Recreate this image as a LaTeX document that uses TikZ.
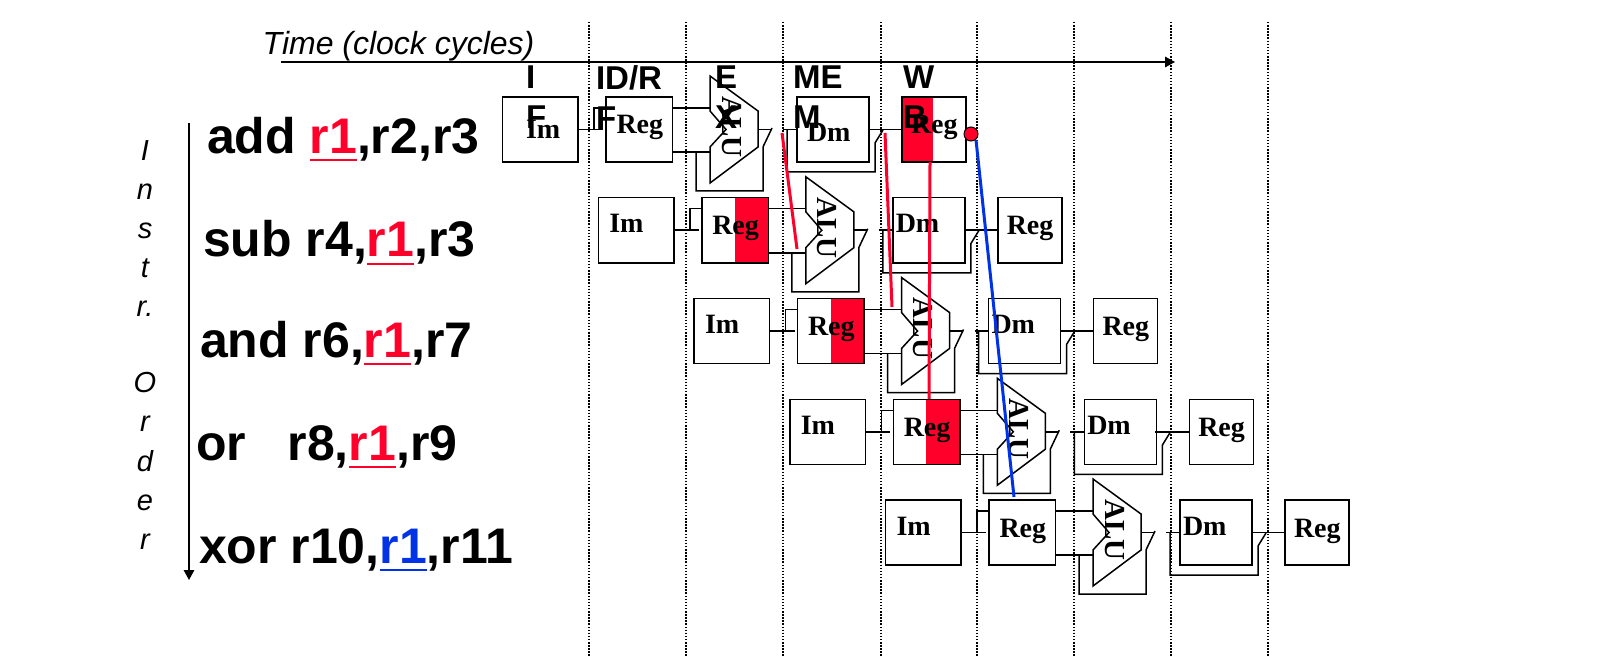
\documentclass[tikz,border=0pt]{standalone}
\usepackage{fontspec}
\setmainfont{Liberation Serif}
\newfontfamily\arialf{Liberation Sans}
\usetikzlibrary{arrows.meta}
\definecolor{hotred}{RGB}{255,0,43}
\definecolor{rblue}{RGB}{0,51,230}
\newcommand\regword[2]{\textcolor{#1}{\setbox0\hbox{#2}\rlap{\rule[-7.5pt]{\wd0}{2pt}}\box0}}
\tikzset{
  wire/.style={draw=black,line width=1.5pt},
  box/.style={draw=black,line width=1.5pt,rectangle,inner sep=0pt,outer sep=0pt,anchor=north west,minimum height=65pt},
  unit/.style={inner sep=0pt,outer sep=0pt,anchor=base west,font=\fontsize{28}{28}\selectfont\bfseries},
  alutext/.style={inner sep=0pt,outer sep=0pt,rotate=-90,font=\fontsize{29}{29}\selectfont\bfseries},
  stagehead/.style={inner sep=0pt,outer sep=0pt,anchor=north west,align=left,font=\arialf\fontsize{33}{40}\selectfont\bfseries},
  instr/.style={inner sep=0pt,outer sep=0pt,anchor=base west,font=\arialf\fontsize{50}{50}\selectfont\bfseries},
  grid line/.style={line width=1.3pt,dash pattern=on 1.5pt off 1.6pt},
  hazard/.style={line width=3pt,hotred},
  hazardblue/.style={line width=3pt,rblue},
  axis/.style={line width=1.5pt,-{Triangle[length=10pt,width=10.5pt]}}
}
\begin{document}
\begin{tikzpicture}[x=1pt,y=-1pt]
\useasboundingbox (0,0) rectangle (1602,668);
% clock-cycle grid
\foreach \gx in {589,686,783,881,977,1074,1171,1268}
  \draw[grid line] (\gx,22) -- (\gx,656);
% time axis
\node[inner sep=0pt,anchor=base west,font=\arialf\fontsize{32}{32}\selectfont\itshape] (timelabel) at (262.5,54.5) {Time (clock cycles)};
\coordinate (timeA) at (281,62);
\coordinate (timeB) at (1175,62);
\draw[axis] (timeA) -- (timeB);
% instruction-order axis
\coordinate (orderA) at (189,123);
\coordinate (orderB) at (189,580);
\draw[axis] (orderA) -- (orderB);
\node[inner sep=0pt,anchor=north,align=center,font=\arialf\fontsize{29}{39.2}\selectfont\itshape] (orderlabel) at (145,140) {I\\n\\s\\t\\r.\\[36.5pt]O\\r\\d\\e\\r};
% instructions
\node[instr] (i1) at (207,154) {add \regword{hotred}{r1},r2,r3};
\node[instr] (i2) at (203,257) {sub r4,\regword{hotred}{r1},r3};
\node[instr] (i3) at (200,357) {and r6,\regword{hotred}{r1},r7};
\node[instr] (i4) at (196,460) {or\ \ \ r8,\regword{hotred}{r1},r9};
\node[instr] (i5) at (199,563) {xor r10,\regword{rblue}{r1},r11};
% pipeline rows
\foreach \i/\imx/\imy/\dmx/\dmy in {0/526/139/807/142,1/513.5/132/800/132,2/513.5/132/800/132,3/513.5/132/800/132,4/513.5/132/800/132}{
\begin{scope}[shift={(95.75*\i,100.75*\i)}]
  % forwarded-register shading
  \ifnum\i=0 \fill[hotred] (902,97) rectangle (933,162); \fi
  \ifnum\i>0 \ifnum\i<4 \fill[hotred] (639,97) rectangle (672,162); \fi\fi
  \node[box,minimum width=75.5pt] (im\i) at (502.5,97) {};
  \node[box,minimum width=66.5pt] (reg\i) at (606,97) {};
  \node[box,minimum width=72pt] (dm\i) at (797,97) {};
  \node[box,minimum width=64pt] (wb\i) at (902,97) {};
  \coordinate (ifjoin\i) at (594,129.5);
  \coordinate (ifend\i) at (603,129.5);
  \coordinate (regtop\i) at (606,108);
  \coordinate (regout\i) at (673,108);
  \coordinate (regbot\i) at (673,152);
  \coordinate (alua\i) at (710,108);
  \coordinate (alub\i) at (710,152);
  \coordinate (aluout\i) at (758,129.5);
  \coordinate (latc\i) at (771,129.5);
  \coordinate (lata\i) at (772,128);
  \coordinate (latb\i) at (763,147);
  \coordinate (fba\i) at (763,191);
  \coordinate (fbb\i) at (696,191);
  \coordinate (fbc\i) at (696,152);
  \coordinate (dmstart\i) at (783,129.5);
  \coordinate (dmjoin\i) at (787,129.5);
  \coordinate (dbk\i) at (787,172);
  \coordinate (dbl\i) at (875,172);
  \coordinate (dbm\i) at (875,143);
  \coordinate (dbn\i) at (883,130);
  \coordinate (dmout\i) at (868,129.5);
  % wires
  \draw[wire] (im\i.east) -- (ifend\i);
  \draw[wire] (ifjoin\i) |- (regtop\i);
  \draw[wire] (regout\i) -- (alua\i);
  \draw[wire] (regbot\i) -- (alub\i);
  \draw[wire] (fbc\i) -- (fbb\i) -- (fba\i) -- (latb\i) -- (lata\i);
  \draw[wire] (aluout\i) -- (latc\i);
  \draw[wire] (dmstart\i) -- (dm\i.west);
  \draw[wire] (dmjoin\i) -- (dbk\i) -- (dbl\i) -- (dbm\i) -- (dbn\i);
  \draw[wire] (dmout\i) -- (wb\i.west);
  % ALU
  \draw[wire,fill=white,line join=miter] (710,76) coordinate (alutop\i) -- (758,111) -- (758,147) -- (710,183) -- (710,147) -- (726,129.5) -- (710,111) -- cycle;
  \node[alutext] (alul\i) at (731.5,127) {ALU};
  % unit labels
  \node[unit] (iml\i) at (\imx,\imy) {Im};
  \node[unit] (regl\i) at (616.5,134) {Reg};
  \node[unit] (dml\i) at (\dmx,\dmy) {Dm};
  \node[unit] (wbl\i) at (911,134) {Reg};
\end{scope}
}
% hazards
\coordinate (hA1) at (782,133);
\coordinate (hA2) at (797,249);
\coordinate (hB1) at (885,133);
\coordinate (hB2) at (892,307);
\coordinate (hC1) at (930,162);
\coordinate (hC2) at (929,399);
\coordinate (hD1) at (976,140);
\coordinate (hD2) at (1014,497);
\draw[hazard] (hA1) -- (hA2);
\draw[hazard] (hB1) -- (hB2);
\draw[hazard] (hC1) -- (hC2);
\draw[hazardblue] (hD1) -- (hD2);
\node[circle,draw=black,line width=1pt,fill=hotred,minimum size=14pt,inner sep=0pt] (dot) at (971,134) {};
% stage headers
\node[stagehead] (sif) at (526,66) {I\\F};
\node[stagehead] (sid) at (596,66) {ID/R\\F};
\node[stagehead] (sex) at (715,66) {E\\X};
\node[stagehead] (sme) at (793,66) {ME\\M};
\node[stagehead] (swb) at (903,66) {W\\B};
\end{tikzpicture}
\end{document}
